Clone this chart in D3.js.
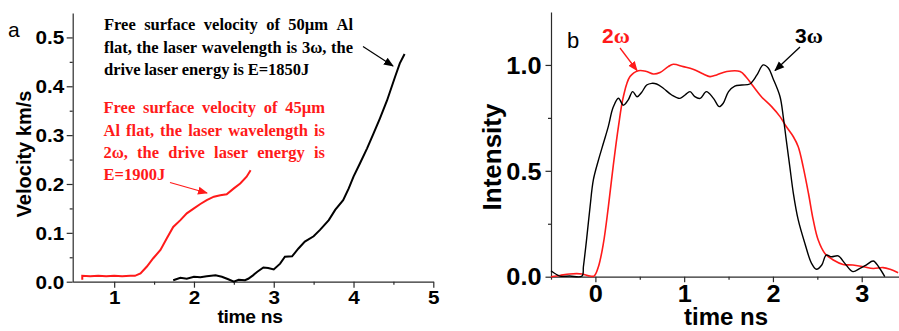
<!DOCTYPE html>
<html>
<head>
<meta charset="utf-8">
<script src="https://cdn.jsdelivr.net/npm/d3@7"></script>
<style>
  html, body { margin: 0; padding: 0; background: #fff; }
  svg { display: block; }
</style>
</head>
<body>
<svg id="chart" width="899" height="331"></svg>
<script>
// ---- panel a: free surface velocity (time ns, km/s)
const vel3wT = [1.74, 1.83, 1.91, 2.0, 2.08, 2.16, 2.27, 2.35, 2.43, 2.5, 2.56, 2.64, 2.68, 2.74, 2.79, 2.87, 2.93, 3.0, 3.08, 3.14, 3.23, 3.31, 3.39, 3.5, 3.58, 3.69, 3.77, 3.87, 3.94, 4.0, 4.08, 4.17, 4.25, 4.33, 4.42, 4.52, 4.58, 4.64]
const vel3wV = [0.003, 0.008, 0.006, 0.01, 0.009, 0.011, 0.013, 0.01, 0.005, 0.0, 0.004, 0.003, 0.006, 0.013, 0.02, 0.029, 0.028, 0.025, 0.037, 0.051, 0.052, 0.068, 0.082, 0.093, 0.106, 0.126, 0.147, 0.167, 0.191, 0.215, 0.242, 0.273, 0.303, 0.334, 0.371, 0.419, 0.447, 0.466]
const vel2wT = [0.6, 0.6, 0.7, 0.8, 0.9, 1.0, 1.1, 1.2, 1.26, 1.33, 1.41, 1.49, 1.58, 1.66, 1.74, 1.83, 1.91, 2.0, 2.08, 2.16, 2.25, 2.33, 2.41, 2.5, 2.58, 2.66, 2.71]
const vel2wV = [0.004, 0.012, 0.011, 0.012, 0.011, 0.012, 0.011, 0.012, 0.012, 0.017, 0.031, 0.048, 0.065, 0.089, 0.112, 0.126, 0.14, 0.15, 0.159, 0.167, 0.174, 0.177, 0.179, 0.191, 0.201, 0.215, 0.228]
const velTicksX = [1, 2, 3, 4, 5]
const velTicksY = [0, 0.1, 0.2, 0.3, 0.4, 0.5]

// ---- panel b: laser pulse shapes (time ns, normalised intensity)
const int3wT = [-0.5, -0.4, -0.29, -0.15, -0.135, -0.1, -0.06, -0.023, 0.034, 0.09, 0.146, 0.2, 0.26, 0.315, 0.37, 0.42, 0.47, 0.52, 0.578, 0.634, 0.69, 0.765, 0.86, 0.953, 1.01, 1.066, 1.12, 1.18, 1.25, 1.33, 1.396, 1.44, 1.5, 1.57, 1.65, 1.74, 1.82, 1.89, 1.95, 2.0, 2.08, 2.116, 2.15, 2.19, 2.23, 2.285, 2.36, 2.435, 2.49, 2.55, 2.6, 2.66, 2.735, 2.81, 2.9, 2.98, 3.05, 3.13, 3.19, 3.26]
const int3wV = [0.028, 0.003, 0.003, 0.003, 0.047, 0.173, 0.33, 0.457, 0.55, 0.63, 0.71, 0.8, 0.843, 0.81, 0.835, 0.874, 0.85, 0.87, 0.905, 0.913, 0.91, 0.89, 0.858, 0.842, 0.858, 0.874, 0.85, 0.842, 0.874, 0.842, 0.803, 0.819, 0.874, 0.9, 0.905, 0.91, 0.953, 1.0, 0.984, 0.937, 0.85, 0.756, 0.646, 0.52, 0.394, 0.268, 0.157, 0.063, 0.035, 0.055, 0.102, 0.094, 0.098, 0.063, 0.024, 0.039, 0.055, 0.074, 0.047, 0.0]
const int2wT = [-0.5, -0.4, -0.29, -0.15, -0.06, -0.015, 0.034, 0.09, 0.146, 0.2, 0.26, 0.315, 0.39, 0.484, 0.578, 0.653, 0.728, 0.82, 0.878, 0.99, 1.1, 1.216, 1.29, 1.366, 1.48, 1.63, 1.7, 1.78, 1.87, 1.985, 2.08, 2.15, 2.23, 2.285, 2.34, 2.4, 2.454, 2.51, 2.585, 2.68, 2.79, 2.9, 3.02, 3.13, 3.24, 3.32, 3.41]
const int2wV = [0.0, 0.006, 0.013, 0.013, 0.003, 0.003, 0.047, 0.157, 0.33, 0.52, 0.71, 0.85, 0.945, 0.973, 0.969, 0.957, 0.964, 0.992, 1.003, 0.992, 0.98, 0.957, 0.945, 0.953, 0.969, 0.969, 0.942, 0.898, 0.85, 0.803, 0.756, 0.709, 0.661, 0.614, 0.52, 0.394, 0.268, 0.173, 0.11, 0.079, 0.058, 0.055, 0.047, 0.039, 0.043, 0.035, 0.019]
const intTicksX = [0, 1, 2, 3]
const intTicksY = [0, 0.5, 1.0]

// annotation lines (last line of each block is left aligned)
const noteBlack = ['Free surface velocity of 50µm Al', 'flat, the laser wavelength is 3ω, the', 'drive laser energy is E=1850J']
const noteRed = ['Free surface velocity of 45µm', 'Al flat, the laser wavelength is', '2ω, the drive laser energy is', 'E=1900J']

const RED = '#ff1a1a'
const AXIS = '#2b2b2b'
const SANS = 'Liberation Sans, Arial, sans-serif'
const SERIF = 'Liberation Serif, Times New Roman, serif'

const svg = d3.select('#chart')

const defs = svg.append('defs')
const addHead = (id, color) => {
  defs.append('marker')
    .attr('id', id)
    .attr('viewBox', '0 0 10 10')
    .attr('refX', 9).attr('refY', 5)
    .attr('markerWidth', 10).attr('markerHeight', 10)
    .attr('markerUnits', 'userSpaceOnUse')
    .attr('orient', 'auto')
    .append('path')
    .attr('d', 'M0,1 L10,5 L0,9 Z')
    .attr('fill', color)
}
addHead('headBlack', '#000')
addHead('headRed', RED)

// squeeze/stretch text horizontally like the original bitmap
function placeText(sel, sx) {
  sel.each(function () {
    const t = d3.select(this)
    const x = +t.attr('x') || 0
    const y = +t.attr('y') || 0
    t.attr('x', 0).attr('y', 0)
      .attr('transform', `translate(${x},${y}) scale(${sx},1)`)
  })
}

function drawAxes(g, x, y, opt) {
  const xAxis = d3.axisBottom(x)
    .tickValues(opt.xMinor).tickSize(opt.minorLen).tickSizeOuter(0).tickFormat('')
  const xMajor = d3.axisBottom(x)
    .tickValues(opt.xTicks).tickSize(opt.majorLen).tickSizeOuter(0).tickFormat(d3.format('d'))
  const yAxis = d3.axisLeft(y)
    .tickValues(opt.yMinor).tickSize(opt.minorLen).tickSizeOuter(0).tickFormat('')
  const yMajor = d3.axisLeft(y)
    .tickValues(opt.yTicks).tickSize(opt.majorLen).tickSizeOuter(0).tickFormat(d3.format(opt.yFmt))

  const y0 = y.range()[0]
  const x0 = x.range()[0]
  g.append('g').attr('transform', `translate(0,${y0})`).call(xAxis)
  const gx = g.append('g').attr('transform', `translate(0,${y0})`).call(xMajor)
  g.append('g').attr('transform', `translate(${x0},0)`).call(yAxis)
  const gy = g.append('g').attr('transform', `translate(${x0},0)`).call(yMajor)

  g.selectAll('.domain, .tick line').attr('stroke', AXIS).attr('stroke-width', 1.2)
  gx.select('.domain').remove()
  gy.select('.domain').remove()

  gx.selectAll('text')
    .attr('font-family', SANS).attr('font-weight', 'bold')
    .attr('font-size', opt.tickFont).attr('fill', '#000')
    .attr('y', opt.xLabelDy).attr('dy', null)
  placeText(gx.selectAll('text'), opt.sx)

  gy.selectAll('text')
    .attr('font-family', SANS).attr('font-weight', 'bold')
    .attr('font-size', opt.tickFont).attr('fill', '#000')
    .attr('x', -opt.yLabelGap).attr('dy', '0.36em')
  gy.selectAll('text').each(function () {
    const t = d3.select(this)
    t.attr('transform', `translate(${-opt.yLabelGap},0) scale(${opt.sx},1)`).attr('x', 0)
  })
}

// ================= panel a =================
const ga = svg.append('g')
const xa = d3.scaleLinear().domain([0.48, 5]).range([72.7, 433.3])
const ya = d3.scaleLinear().domain([0, 0.55]).range([281.7, 13])

drawAxes(ga, xa, ya, {
  xTicks: velTicksX, xMinor: [1.5, 2.5, 3.5, 4.5],
  yTicks: velTicksY, yMinor: [0.05, 0.15, 0.25, 0.35, 0.45],
  majorLen: 6, minorLen: 3, tickFont: 18, sx: 1.15, yFmt: '.1f',
  xLabelDy: 22, yLabelGap: 8.5
})

const lineA = d3.line().x(d => xa(d[0])).y(d => ya(d[1]))
ga.append('path')
  .datum(vel2wT.map((t, i) => [t, vel2wV[i]]))
  .attr('d', lineA).attr('fill', 'none')
  .attr('stroke', RED).attr('stroke-width', 2)
ga.append('path')
  .datum(vel3wT.map((t, i) => [t, vel3wV[i]]))
  .attr('d', lineA).attr('fill', 'none')
  .attr('stroke', '#000').attr('stroke-width', 2)

ga.append('text').text('a')
  .attr('x', 8).attr('y', 37)
  .attr('font-family', SANS).attr('font-size', 21)

ga.append('text').text('time ns')
  .attr('x', 250).attr('y', 323)
  .attr('text-anchor', 'middle')
  .attr('font-family', SANS).attr('font-weight', 'bold').attr('font-size', 17.5)
  .attr('letter-spacing', -0.3)
  .call(placeText, 1.1)

ga.append('text').text('Velocity km/s')
  .attr('transform', 'translate(31,154) rotate(-90)')
  .attr('text-anchor', 'middle')
  .attr('font-family', SANS).attr('font-weight', 'bold').attr('font-size', 20)

function justify(g, str, x0, x1, y, color, full) {
  const words = str.split(' ')
  const nodes = words.map(w => g.append('text').text(w)
    .attr('y', y)
    .attr('font-family', SERIF).attr('font-weight', 'bold').attr('font-size', 16.5)
    .attr('fill', color))
  const widths = nodes.map(n => n.node().getComputedTextLength())
  const total = d3.sum(widths)
  const gap = full ? (x1 - x0 - total) / (words.length - 1) : 3.6
  let x = x0
  nodes.forEach((n, i) => { n.attr('x', x); x += widths[i] + gap })
}

noteBlack.forEach((s, i) => justify(ga, s, 104, 353, 30 + i * 22.6, '#000', i < noteBlack.length - 1))
noteRed.forEach((s, i) => justify(ga, s, 103.5, 325, 113.3 + i * 22.3, RED, i < noteRed.length - 1))

ga.append('line')
  .attr('x1', 363).attr('y1', 46.5).attr('x2', 393).attr('y2', 66)
  .attr('stroke', '#000').attr('stroke-width', 1.2)
  .attr('marker-end', 'url(#headBlack)')
ga.append('line')
  .attr('x1', 170).attr('y1', 182.5).attr('x2', 207).attr('y2', 193)
  .attr('stroke', RED).attr('stroke-width', 1.2)
  .attr('marker-end', 'url(#headRed)')

// ================= panel b =================
const gb = svg.append('g')
const xb = d3.scaleLinear().domain([-0.5, 3.42]).range([551, 899])
const yb = d3.scaleLinear().domain([0, 1.25]).range([276.7, 12])

drawAxes(gb, xb, yb, {
  xTicks: intTicksX, xMinor: [-0.5, 0.5, 1.5, 2.5],
  yTicks: intTicksY, yMinor: [0.25, 0.75],
  majorLen: 5.5, minorLen: 3, tickFont: 23, sx: 1.1, yFmt: '.1f',
  xLabelDy: 25, yLabelGap: 9.5
})

const lineB = d3.line().x(d => xb(d[0])).y(d => yb(d[1])).curve(d3.curveCatmullRom.alpha(0.5))
gb.append('path')
  .datum(int2wT.map((t, i) => [t, int2wV[i]]))
  .attr('d', lineB).attr('fill', 'none')
  .attr('stroke', RED).attr('stroke-width', 1.6)
gb.append('path')
  .datum(int3wT.map((t, i) => [t, int3wV[i]]))
  .attr('d', lineB).attr('fill', 'none')
  .attr('stroke', '#000').attr('stroke-width', 1.4)

gb.append('text').text('b')
  .attr('x', 567).attr('y', 48)
  .attr('font-family', SANS).attr('font-size', 22)

gb.append('text').text('time ns')
  .attr('x', 726).attr('y', 325)
  .attr('text-anchor', 'middle')
  .attr('font-family', SANS).attr('font-weight', 'bold').attr('font-size', 24)

gb.append('text').text('Intensity')
  .attr('transform', 'translate(501,157) rotate(-90)')
  .attr('text-anchor', 'middle')
  .attr('font-family', SANS).attr('font-weight', 'bold').attr('font-size', 26)

const omega = (x, digit, color) => {
  const t = gb.append('text').attr('x', x).attr('y', 43.3).attr('fill', color)
  t.append('tspan').text(digit)
    .attr('font-family', SANS).attr('font-weight', 'bold').attr('font-size', 21)
  t.append('tspan').text('ω')
    .attr('font-family', SERIF).attr('font-weight', 'bold').attr('font-size', 22)
}
omega(602, '2', RED)
omega(795, '3', '#000')

gb.append('line')
  .attr('x1', 620).attr('y1', 48).attr('x2', 637).attr('y2', 70.5)
  .attr('stroke', RED).attr('stroke-width', 1.3)
  .attr('marker-end', 'url(#headRed)')
gb.append('line')
  .attr('x1', 800).attr('y1', 47).attr('x2', 775).attr('y2', 70.5)
  .attr('stroke', '#000').attr('stroke-width', 1.3)
  .attr('marker-end', 'url(#headBlack)')
</script>
</body>
</html>
